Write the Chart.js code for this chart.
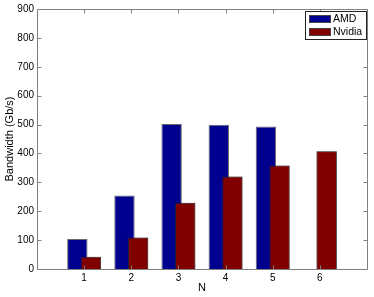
<!DOCTYPE html>
<html>
<head>
<meta charset="utf-8">
<script src="https://cdn.jsdelivr.net/npm/chart.js@4/dist/chart.umd.min.js"></script>
<style>
html,body{margin:0;padding:0;background:#fff;}
#wrap{width:374px;height:297px;position:relative;}
</style>
</head>
<body>
<div id="wrap"><canvas id="c" width="374" height="297"></canvas></div>
<script>
// Data
const nValues = [1, 2, 3, 4, 5, 6];
const amdValues = [104, 254, 502, 499, 493, null];
const nvidiaValues = [42, 109, 229, 320, 358, 408];
const seriesNames = ['AMD', 'Nvidia'];
const seriesColors = ['#00008F', '#800000'];
const yTickValues = [0, 100, 200, 300, 400, 500, 600, 700, 800, 900];
const xTickValues = [1, 2, 3, 4, 5, 6];
const xTitle = 'N';
const yTitle = 'Bandwidth (Gb/s)';

const FONT = '"Liberation Sans", Arial, Helvetica, sans-serif';
const AXIS_COLOR = '#808080';

function toPoints(vals) {
  const out = [];
  vals.forEach((v, i) => { if (v !== null) out.push({x: nValues[i], y: v}); });
  return out;
}

const boxPlugin = {
  id: 'matlabBox',
  afterDatasetsDraw(chart) {
    const ctx = chart.ctx;
    const a = chart.chartArea;
    const xs = chart.scales.x, ys = chart.scales.y;
    // redraw the second series so it sits in front, as in the reference
    ctx.save();
    ctx.beginPath();
    ctx.rect(a.left, a.top, a.right - a.left, a.bottom - a.top);
    ctx.clip();
    chart.getDatasetMeta(1).controller.draw();
    ctx.restore();

    ctx.save();
    ctx.strokeStyle = AXIS_COLOR;
    ctx.lineWidth = 1;
    const L = Math.round(a.left) + 0.5, R = Math.round(a.right) + 0.5;
    const T = Math.round(a.top) + 0.5, B = Math.round(a.bottom) + 0.5;
    ctx.beginPath();
    ctx.rect(L, T, R - L, B - T);
    const tl = 4;
    xTickValues.forEach(v => {
      const px = Math.round(xs.getPixelForValue(v)) + 0.5;
      ctx.moveTo(px, B); ctx.lineTo(px, B - tl);
      ctx.moveTo(px, T); ctx.lineTo(px, T + tl);
    });
    yTickValues.forEach(v => {
      const py = Math.round(ys.getPixelForValue(v)) + 0.5;
      ctx.moveTo(L, py); ctx.lineTo(L + tl, py);
      ctx.moveTo(R, py); ctx.lineTo(R - tl, py);
    });
    ctx.stroke();

    // legend box
    const lx = 305.5, ly = 11.5, lw = 61, lh = 28;
    ctx.fillStyle = '#fff';
    ctx.fillRect(lx, ly, lw, lh);
    ctx.strokeStyle = '#222';
    ctx.strokeRect(lx, ly, lw, lh);
    ctx.font = '10.5px ' + FONT;
    ctx.textBaseline = 'middle';
    ctx.textAlign = 'left';
    chart.data.datasets.forEach((ds, i) => {
      const sy = 15 + i * 13;
      ctx.fillStyle = ds.backgroundColor;
      ctx.fillRect(309, sy, 22, 8);
      ctx.strokeStyle = '#444';
      ctx.strokeRect(309.5, sy + 0.5, 21, 7);
      ctx.fillStyle = '#000';
      ctx.fillText(ds.label, 333, sy + 4.5);
    });
    ctx.restore();
  }
};

new Chart(document.getElementById('c'), {
  type: 'bar',
  data: {
    datasets: [
      {label: seriesNames[0], data: toPoints(amdValues), backgroundColor: seriesColors[0]},
      {label: seriesNames[1], data: toPoints(nvidiaValues), backgroundColor: seriesColors[1]}
    ]
  },
  options: {
    responsive: false,
    animation: false,
    devicePixelRatio: 1,
    layout: {padding: {top: 8, right: 7, left: 0, bottom: 0}},
    datasets: {
      bar: {
        categoryPercentage: 0.577,
        barPercentage: 1.5,
        borderColor: 'rgba(40,40,40,0.7)',
        borderWidth: 1,
        borderSkipped: 'bottom'
      }
    },
    plugins: {
      legend: {display: false},
      tooltip: {enabled: false}
    },
    scales: {
      x: {
        type: 'linear',
        offset: false,
        min: 0, max: 7,
        afterBuildTicks: s => { s.ticks = xTickValues.map(v => ({value: v})); },
        afterFit: s => { s.height = 28; },
        grid: {display: false, drawTicks: false, offset: false},
        border: {display: false},
        ticks: {font: {family: FONT, size: 10}, color: '#000', padding: 3, maxRotation: 0, autoSkip: false},
        title: {display: true, text: xTitle, font: {family: FONT, size: 11}, color: '#000', padding: {top: 0, bottom: 2}}
      },
      y: {
        type: 'linear',
        min: 0, max: 900,
        afterBuildTicks: s => { s.ticks = yTickValues.map(v => ({value: v})); },
        afterFit: s => { s.width = 37; },
        grid: {display: false, drawTicks: false},
        border: {display: false},
        ticks: {font: {family: FONT, size: 10}, color: '#000', padding: 3},
        title: {display: true, text: yTitle, font: {family: FONT, size: 11}, color: '#000', padding: {top: 3, bottom: 0}}
      }
    }
  },
  plugins: [boxPlugin]
});
</script>
</body>
</html>
